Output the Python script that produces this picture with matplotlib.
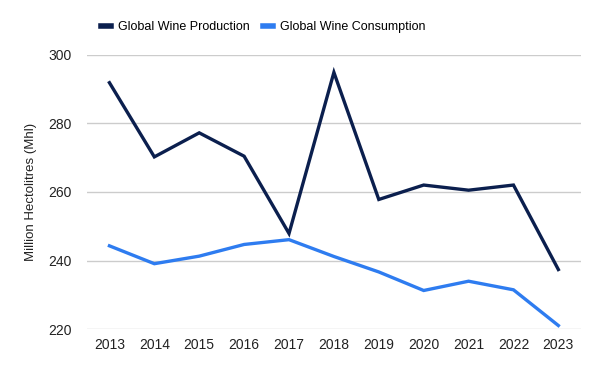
import matplotlib
matplotlib.use("Agg")
import matplotlib.pyplot as plt

plt.rcParams['font.family'] = ['Liberation Sans', 'DejaVu Sans']

years = [2013, 2014, 2015, 2016, 2017, 2018, 2019, 2020, 2021, 2022, 2023]
production = [291.8, 270.2, 277.2, 270.4, 247.9, 294.8, 257.8, 262.0, 260.5, 262.0, 237.4]
consumption = [244.3, 239.1, 241.3, 244.7, 246.1, 241.2, 236.7, 231.3, 234.0, 231.5, 221.1]
yticks = [220, 240, 260, 280, 300]

NAVY = "#0b1f4e"
BLUE = "#2e7cf0"

fig = plt.figure(figsize=(6.0, 3.71), dpi=100)
ax = fig.add_axes([0.145, 0.1124, 0.823, 0.7406])

ax.plot(years, production, color=NAVY, lw=2.4, solid_joinstyle='miter', label="Global Wine Production")
ax.plot(years, consumption, color=BLUE, lw=2.4, solid_joinstyle='miter', label="Global Wine Consumption")

ax.set_xlim(2012.5, 2023.5)
ax.set_ylim(220, 300)
ax.set_yticks(yticks)
ax.set_xticks(years)
ax.grid(axis='y', color='#cccccc', lw=1)
ax.set_axisbelow(True)
for s in ax.spines.values():
    s.set_visible(False)
ax.tick_params(length=0, labelsize=10, labelcolor='#222222')
ax.tick_params(axis='y', pad=11)
ax.tick_params(axis='x', pad=6)
ax.set_ylabel("Million Hectolitres (Mhl)", fontsize=9.5, color='#222222', labelpad=8)

leg = fig.legend(loc='upper left', bbox_to_anchor=(101 / 600, 1 - 21 / 371), ncol=2, frameon=False,
                 fontsize=9, handlelength=0.8, handletextpad=0.6, columnspacing=1.0,
                 borderpad=0, borderaxespad=0)
for line in leg.get_lines():
    line.set_linewidth(4)

fig.savefig("out.png", dpi=100)
